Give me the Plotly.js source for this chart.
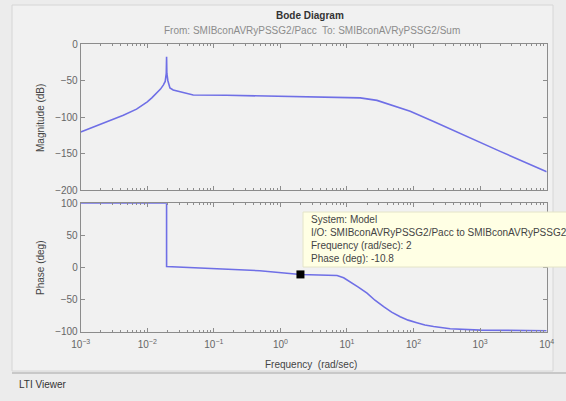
<!DOCTYPE html>
<html>
<head>
<meta charset="utf-8">
<script src="https://cdn.plot.ly/plotly-3.0.1.min.js"></script>
<style>
  html, body { margin: 0; padding: 0; background: #ececec; }
  #chart { width: 566px; height: 401px; }
</style>
</head>
<body>
<div id="chart"></div>
<script>
// Bode response of SMIBconAVRyPSSG2, Pacc -> Sum
const magFreq = [0.001, 0.00275, 0.00437, 0.0069, 0.01, 0.0117, 0.0138, 0.0158, 0.0174, 0.0186,
                 0.0193, 0.0195, 0.0197, 0.0204, 0.0219, 0.0245, 0.0347, 0.049, 0.155, 0.49,
                 1.55, 3.9, 11.2, 15.8, 28.2, 50, 89, 200, 631, 2000, 10000];
const magDb   = [-120.5, -105, -97.5, -89, -79, -73.5, -67.5, -61.5, -56, -51,
                 -40, -17, -40, -50, -60, -62.8, -66, -69.6, -70, -71,
                 -72, -72.5, -72.8, -73.5, -77, -84, -92, -106, -127, -147, -175];

const phaseFreq = [0.001, 0.0195, 0.01951, 0.087, 0.49, 2, 5, 7.1, 8.9, 11.2, 14.8, 20, 26.3, 35.5,
                   46.8, 63, 83, 112, 148, 200, 355, 1000, 10000];
const phaseDeg  = [100, 100, 1.5, -1, -5, -10.8, -11.2, -12.5, -16, -22, -30.5, -40, -51, -61,
                   -69.5, -76.6, -82, -86, -89.5, -92, -95.5, -97.5, -98.5];

// data cursor
const cursorFreq = [2];
const cursorPhase = [-10.8];

const freqTicks = [1e-3, 1e-2, 1e-1, 1, 10, 100, 1000, 10000];
const freqTickText = ['10<sup>\u22123</sup>', '10<sup>\u22122</sup>', '10<sup>\u22121</sup>', '10<sup>0</sup>',
                      '10<sup>1</sup>', '10<sup>2</sup>', '10<sup>3</sup>', '10<sup>4</sup>'];
const magTicks = [0, -50, -100, -150, -200];
const phaseTicks = [100, 50, 0, -50, -100];

const W = 566, H = 401;
const px = x => x / W;
const py = y => 1 - y / H;

const lineColor = '#6f6fe6';
const axisColor = '#8c8c8c';
const font = 'Liberation Sans, Arial, sans-serif';

const traces = [
  { x: magFreq, y: magDb, xaxis: 'x', yaxis: 'y', type: 'scatter', mode: 'lines',
    line: { color: lineColor, width: 1.6 }, hoverinfo: 'skip' },
  { x: phaseFreq, y: phaseDeg, xaxis: 'x2', yaxis: 'y2', type: 'scatter', mode: 'lines',
    line: { color: lineColor, width: 1.6 }, hoverinfo: 'skip' },
  { x: cursorFreq, y: cursorPhase, xaxis: 'x2', yaxis: 'y2', type: 'scatter', mode: 'markers',
    marker: { symbol: 'square', size: 8, color: '#000' }, hoverinfo: 'skip', cliponaxis: false }
];

const xCommon = {
  type: 'log', range: [-3, 4], tickmode: 'array', tickvals: freqTicks, ticktext: freqTickText,
  showline: true, linecolor: axisColor, linewidth: 1, mirror: 'allticks',
  ticks: 'inside', ticklen: 4, tickcolor: axisColor,
  minor: { ticks: 'inside', ticklen: 2, tickcolor: axisColor, dtick: 'D1', showgrid: false },
  showgrid: false, zeroline: false,
  tickfont: { family: font, size: 10, color: '#666' }
};
const yCommon = {
  showline: true, linecolor: axisColor, linewidth: 1, mirror: 'allticks',
  ticks: 'inside', ticklen: 4, tickcolor: axisColor,
  showgrid: false, zeroline: false,
  tickfont: { family: font, size: 10, color: '#666' }
};

function label(text, x, y, size, color, extra) {
  return Object.assign({
    text: text, xref: 'paper', yref: 'paper', x: px(x), y: py(y),
    xanchor: 'center', yanchor: 'middle', showarrow: false,
    font: { family: font, size: size, color: color }
  }, extra || {});
}

const layout = {
  width: W, height: H,
  margin: { l: 0, r: 0, t: 0, b: 0 },
  paper_bgcolor: '#ececec',
  plot_bgcolor: '#ffffff',
  showlegend: false,
  xaxis: Object.assign({}, xCommon, { domain: [px(80.7), px(546.7)], anchor: 'y', showticklabels: false }),
  yaxis: Object.assign({}, yCommon, { domain: [py(190), py(44.3)], anchor: 'x', range: [-200, 0], tickvals: magTicks }),
  xaxis2: Object.assign({}, xCommon, { domain: [px(80.7), px(546.7)], anchor: 'y2', matches: 'x', ticklabelstandoff: 3 }),
  yaxis2: Object.assign({}, yCommon, { domain: [py(331.7), py(203.3)], anchor: 'x2', range: [-100, 100], tickvals: phaseTicks }),
  shapes: [
    // figure panel
    { type: 'rect', xref: 'paper', yref: 'paper', x0: px(12), x1: px(553), y0: py(371), y1: py(5),
      fillcolor: '#f1f1f1', line: { color: '#d6d6d6', width: 1 }, layer: 'below' },
    // status bar separator
    { type: 'line', xref: 'paper', yref: 'paper', x0: px(12), x1: px(566), y0: py(373), y1: py(373),
      line: { color: '#c8c8c8', width: 2 } },
    // data tip box
    { type: 'rect', xref: 'paper', yref: 'paper', x0: px(303), x1: px(600), y0: py(267), y1: py(212),
      fillcolor: '#ffffe4', line: { color: '#e4e4c8', width: 1 }, layer: 'above' }
  ],
  annotations: [
    label('<b>Bode Diagram</b>', 310, 16, 10, '#333'),
    label('From: SMIBconAVRyPSSG2/Pacc  To: SMIBconAVRyPSSG2/Sum', 312, 30, 10, '#8c8c8c'),
    label('Magnitude (dB)', 40, 118, 10, '#444', { textangle: -90 }),
    label('Phase (deg)', 40, 268, 10, '#444', { textangle: -90 }),
    label('Frequency  (rad/sec)', 311, 364, 10, '#444'),
    label('LTI Viewer', 17, 384, 10, '#333', { xanchor: 'left' }),
    label('System: Model<br>I/O: SMIBconAVRyPSSG2/Pacc to SMIBconAVRyPSSG2/Sum<br>Frequency (rad/sec): 2<br>Phase (deg): -10.8',
      309, 212, 10, '#444', { xanchor: 'left', yanchor: 'top', align: 'left' })
  ]
};

Plotly.newPlot('chart', traces, layout, { staticPlot: true, displayModeBar: false });
</script>
</body>
</html>
